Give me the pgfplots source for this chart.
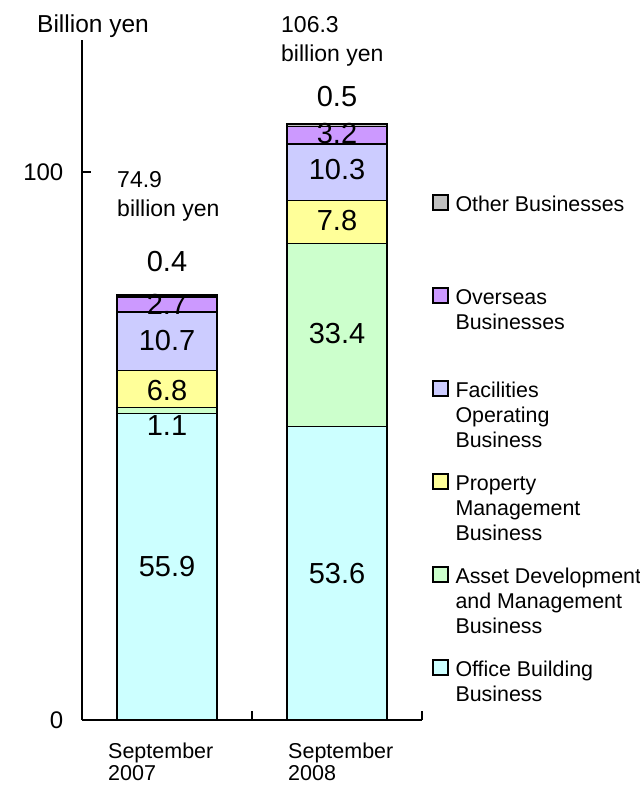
\documentclass[border=0pt]{standalone}
\usepackage{pgfplots}
\pgfplotsset{compat=1.18}
\usepackage{fontspec}
\setmainfont{Liberation Sans}
\definecolor{cOffice}{HTML}{CCFFFF}
\definecolor{cAsset}{HTML}{CCFFCC}
\definecolor{cProperty}{HTML}{FFFF99}
\definecolor{cFacilities}{HTML}{CCCCFF}
\definecolor{cOverseas}{HTML}{CC99FF}
\definecolor{cOther}{HTML}{C0C0C0}
\newcommand{\vl}{\fontsize{29}{33}\selectfont}
\newcommand{\tl}{\fontsize{23}{27}\selectfont}
\begin{document}
\begin{tikzpicture}
\begin{axis}[
  at={(82pt,65pt)}, anchor=south west,
  scale only axis, width=340pt, height=680pt,
  xmin=-0.5, xmax=1.5, ymin=0, ymax=124.1,
  axis x line*=bottom, axis y line*=left,
  axis line style={line width=1.5pt, black},
  ybar stacked, bar width=100pt,
  xtick={0.5,1.5}, xticklabels={},
  ytick={0,100},
  tick align=inside, major tick length=9pt,
  tick style={line width=1.5pt, black},
  /pgf/number format/assume math mode=true,
  yticklabel style={font=\fontsize{24}{28}\selectfont, anchor=east, inner sep=0pt, xshift=-18.5pt},
  clip=false,
  reverse legend,
  legend image code/.code={\draw[#1] (0pt,2pt) rectangle (15pt,17pt);
     \path[draw=none,fill=none] (0pt,-57.5pt) -- (0pt,17.5pt);},
  legend style={at={(1.02941,0.77574)}, anchor=north west, draw=none, fill=none,
    inner sep=0pt, outer sep=0pt, row sep=16pt, column sep=5pt,
    font=\fontsize{21.4}{25}\selectfont, cells={anchor=base west, inner sep=0pt}},
  every axis plot/.append style={draw=black, line width=1.5pt},
]
\addplot[fill=cOffice] coordinates {(0,55.9) (1,53.6)};
\addlegendentry{\parbox[t]{200pt}{\strut Office Building\\\strut Business}}
\addplot[fill=cAsset] coordinates {(0,1.1) (1,33.4)};
\addlegendentry{\parbox[t]{200pt}{\strut Asset Development\\\strut and Management\\\strut Business}}
\addplot[fill=cProperty] coordinates {(0,6.8) (1,7.8)};
\addlegendentry{\parbox[t]{200pt}{\strut Property\\\strut Management\\\strut Business}}
\addplot[fill=cFacilities] coordinates {(0,10.7) (1,10.3)};
\addlegendentry{\parbox[t]{200pt}{\strut Facilities\\\strut Operating\\\strut Business}}
\addplot[fill=cOverseas] coordinates {(0,2.7) (1,3.2)};
\addlegendentry{\parbox[t]{200pt}{\strut Overseas\\\strut Businesses}}
\addplot[fill=cOther] coordinates {(0,0.4) (1,0.5)};
\addlegendentry{\parbox[t]{200pt}{\strut Other Businesses}}

% anchor points for value labels
\coordinate (a1) at (axis cs:0,27.95);
\coordinate (a2) at (axis cs:0,53.8);
\coordinate (a3) at (axis cs:0,60.1);
\coordinate (a4) at (axis cs:0,69.25);
\coordinate (a5) at (axis cs:0,75.9);
\coordinate (a6) at (axis cs:0,81.8);
\coordinate (b1) at (axis cs:1,26.8);
\coordinate (b2) at (axis cs:1,70.6);
\coordinate (b3) at (axis cs:1,91.2);
\coordinate (b4) at (axis cs:1,100.4);
\coordinate (b5) at (axis cs:1,107.1);
\coordinate (b6) at (axis cs:1,112.0);
% totals
\node[font=\tl, anchor=base west, inner sep=0pt] at (axis cs:-0.294,97.1) {74.9};
\node[font=\tl, anchor=base west, inner sep=0pt] at (axis cs:-0.294,91.8) {billion yen};
\node[font=\tl, anchor=base west, inner sep=0pt] at (axis cs:0.6706,125.4) {106.3};
\node[font=\tl, anchor=base west, inner sep=0pt] at (axis cs:0.6706,120.1) {billion yen};
% category labels
\node[font=\fontsize{21.5}{22}\selectfont, align=left, anchor=north west, inner sep=0pt, yshift=-23pt] at (axis cs:-0.3471,0) {September\\2007};
\node[font=\fontsize{21.5}{22}\selectfont, align=left, anchor=north west, inner sep=0pt, yshift=-23pt] at (axis cs:0.7118,0) {September\\2008};
% unit title
\node[font=\fontsize{24.5}{28}\selectfont, anchor=base west, inner sep=0pt] at (axis cs:-0.7647,125.5) {Billion yen};
\end{axis}
\node[font=\vl] at (a1) {55.9};
\node[font=\vl] at (a2) {1.1};
\node[font=\vl] at (a3) {6.8};
\node[font=\vl] at (a4) {10.7};
\node[font=\vl] at (a5) {2.7};
\node[font=\vl, anchor=base, inner sep=0pt] at (a6) {0.4};
\node[font=\vl] at (b1) {53.6};
\node[font=\vl] at (b2) {33.4};
\node[font=\vl] at (b3) {7.8};
\node[font=\vl] at (b4) {10.3};
\node[font=\vl] at (b5) {3.2};
\node[font=\vl, anchor=base, inner sep=0pt] at (b6) {0.5};
\pgfresetboundingbox
\useasboundingbox (0,0) rectangle (640pt,785pt);
\end{tikzpicture}
\end{document}
